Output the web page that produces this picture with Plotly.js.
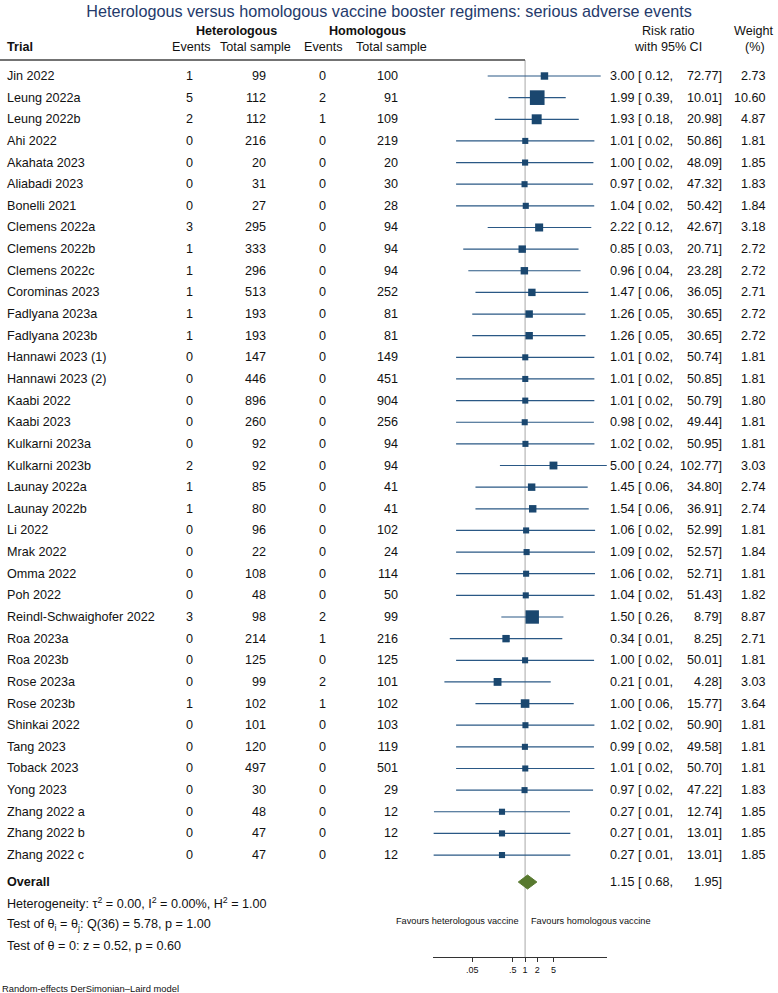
<!DOCTYPE html>
<html>
<head>
<meta charset="utf-8">
<script src="https://cdn.plot.ly/plotly-3.0.1.min.js"></script>
<style>html,body{margin:0;padding:0;background:#fff;}#chart{width:778px;height:993px;}</style>
</head>
<body>
<div id="chart"></div>
<script>
// ---------------- DATA ----------------
const trials = ["Jin 2022","Leung 2022a","Leung 2022b","Ahi 2022","Akahata 2023","Aliabadi 2023","Bonelli 2021",
  "Clemens 2022a","Clemens 2022b","Clemens 2022c","Corominas 2023","Fadlyana 2023a","Fadlyana 2023b",
  "Hannawi 2023 (1)","Hannawi 2023 (2)","Kaabi 2022","Kaabi 2023","Kulkarni 2023a","Kulkarni 2023b",
  "Launay 2022a","Launay 2022b","Li 2022","Mrak 2022","Omma 2022","Poh 2022","Reindl-Schwaighofer 2022",
  "Roa 2023a","Roa 2023b","Rose 2023a","Rose 2023b","Shinkai 2022","Tang 2023","Toback 2023","Yong 2023",
  "Zhang 2022 a","Zhang 2022 b","Zhang 2022 c"];
const hetEvents = [1,5,2,0,0,0,0,3,1,1,1,1,1,0,0,0,0,0,2,1,1,0,0,0,0,3,0,0,0,1,0,0,0,0,0,0,0];
const hetTotal  = [99,112,112,216,20,31,27,295,333,296,513,193,193,147,446,896,260,92,92,85,80,96,22,108,48,98,214,125,99,102,101,120,497,30,48,47,47];
const homEvents = [0,2,1,0,0,0,0,0,0,0,0,0,0,0,0,0,0,0,0,0,0,0,0,0,0,2,1,0,2,1,0,0,0,0,0,0,0];
const homTotal  = [100,91,109,219,20,30,28,94,94,94,252,81,81,149,451,904,256,94,94,41,41,102,24,114,50,99,216,125,101,102,103,119,501,29,12,12,12];
const rr   = [3.00,1.99,1.93,1.01,1.00,0.97,1.04,2.22,0.85,0.96,1.47,1.26,1.26,1.01,1.01,1.01,0.98,1.02,5.00,1.45,1.54,1.06,1.09,1.06,1.04,1.50,0.34,1.00,0.21,1.00,1.02,0.99,1.01,0.97,0.27,0.27,0.27];
const ciLo = [0.12,0.39,0.18,0.02,0.02,0.02,0.02,0.12,0.03,0.04,0.06,0.05,0.05,0.02,0.02,0.02,0.02,0.02,0.24,0.06,0.06,0.02,0.02,0.02,0.02,0.26,0.014,0.02,0.0103,0.06,0.02,0.02,0.02,0.02,0.0057,0.0056,0.0056];
const ciHi = [72.77,10.01,20.98,50.86,48.09,47.32,50.42,42.67,20.71,23.28,36.05,30.65,30.65,50.74,50.85,50.79,49.44,50.95,102.77,34.80,36.91,52.99,52.57,52.71,51.43,8.79,8.25,50.01,4.28,15.77,50.90,49.58,50.70,47.22,12.74,13.01,13.01];
const weight = [2.73,10.60,4.87,1.81,1.85,1.83,1.84,3.18,2.72,2.72,2.71,2.72,2.72,1.81,1.81,1.80,1.81,1.81,3.03,2.74,2.74,1.81,1.84,1.81,1.82,8.87,2.71,1.81,3.03,3.64,1.81,1.81,1.81,1.83,1.85,1.85,1.85];
const overallRR = 1.15, overallLo = 0.68, overallHi = 1.95;
const tickVals = [0.05, 0.5, 1, 2, 5];
const tickText = [".05", ".5", "1", "2", "5"];
const titleText = "Heterologous versus homologous vaccine booster regimens: serious adverse events";
const statsLines = [
  "Heterogeneity: τ<sup>2</sup> = 0.00, I<sup>2</sup> = 0.00%, H<sup>2</sup> = 1.00",
  "Test of θ<sub>i</sub> = θ<sub>j</sub>: Q(36) = 5.78, p = 1.00",
  "Test of θ = 0: z = 0.52, p = 0.60"
];

// ---------------- LAYOUT HELPERS ----------------
const W = 778, H = 993;
const ROW0 = 76, ROWH = 21.64;
const FONT = "Liberation Sans, Arial, Helvetica, sans-serif";
const FS = 12.6;
const px = v => v / W;
const py = v => 1 - v / H;
const rowOfPx = v => (v - ROW0) / ROWH;
const overallRow = rowOfPx(882);

const n = trials.length;
const rows = trials.map((_, i) => i);
const annotations = [];
function addText(text, x, y, anchor, opts) {
  opts = opts || {};
  annotations.push({
    text: text, x: x, y: y, xref: 'paper', yref: opts.yref || 'paper',
    xanchor: anchor, yanchor: 'middle', showarrow: false,
    font: {family: FONT, size: opts.size || FS, color: opts.color || '#111'}
  });
}

// headers
addText("<b>Heterologous</b>", px(236), py(31), 'center');
addText("<b>Homologous</b>", px(367), py(31), 'center');
addText("<b>Trial</b>", px(5), py(47), 'left');
addText("Events", px(191), py(47), 'center');
addText("Total sample", px(256), py(47), 'center');
addText("Events", px(323), py(47), 'center');
addText("Total sample", px(391), py(47), 'center');
addText("Risk ratio", px(668), py(31), 'center');
addText("with 95% CI", px(668), py(47), 'center');
addText("Weight", px(753), py(31), 'center');
addText("(%)", px(755), py(47), 'center');

// rows
for (let i = 0; i < n; i++) {
  const o = {yref: 'y'};
  addText(trials[i], px(5), i, 'left', o);
  addText(String(hetEvents[i]), px(195), i, 'right', o);
  addText(String(hetTotal[i]), px(268), i, 'right', o);
  addText(String(homEvents[i]), px(328), i, 'right', o);
  addText(String(homTotal[i]), px(400), i, 'right', o);
  addText(rr[i].toFixed(2) + " [ " + ciLo[i].toFixed(2) + ",", px(608), i, 'left', o);
  addText(ciHi[i].toFixed(2) + "]", px(724), i, 'right', o);
  addText(weight[i].toFixed(2), px(768), i, 'right', o);
}
// overall
addText("<b>Overall</b>", px(5), overallRow, 'left', {yref: 'y'});
addText(overallRR.toFixed(2) + " [ " + overallLo.toFixed(2) + ",", px(608), overallRow, 'left', {yref: 'y'});
addText(overallHi.toFixed(2) + "]", px(724), overallRow, 'right', {yref: 'y'});
statsLines.forEach((s, k) => addText(s, px(5), py(903 + k * 21.5), 'left', {size: 12.6}));
addText("Random-effects DerSimonian–Laird model", px(0), py(988), 'left', {size: 9.4});
addText("Favours heterologous vaccine", px(521), py(921), 'right', {size: 9.2});
addText("Favours homologous vaccine", px(529), py(921), 'left', {size: 9.2});

// ---------------- TRACES ----------------
const lineX = [], lineY = [];
for (let i = 0; i < n; i++) { lineX.push(ciLo[i], ciHi[i], null); lineY.push(i, i, null); }
const ciTrace = {
  type: 'scatter', mode: 'lines', x: lineX, y: lineY,
  line: {color: '#2a5885', width: 1.2}, hoverinfo: 'skip', showlegend: false
};
const sqTrace = {
  type: 'scatter', mode: 'markers', x: rr, y: rows,
  marker: {symbol: 'square', color: '#1a476f', opacity: 1,
           size: weight.map(w => 4.5 * Math.sqrt(w)), line: {width: 0}},
  showlegend: false, hoverinfo: 'skip'
};
const dh = 7 / ROWH;
const diamond = {
  type: 'scatter', mode: 'lines', fill: 'toself', fillcolor: '#58792f',
  x: [overallLo, overallRR, overallHi, overallRR, overallLo],
  y: [overallRow, overallRow - dh, overallRow, overallRow + dh, overallRow],
  line: {color: '#58792f', width: 1}, showlegend: false, hoverinfo: 'skip'
};

const layout = {
  width: W, height: H,
  margin: {l: 0, r: 0, t: 0, b: 0, pad: 0},
  paper_bgcolor: '#fff', plot_bgcolor: 'rgba(0,0,0,0)',
  showlegend: false,
  title: {text: titleText, x: 0.5, xanchor: 'center', y: py(11), yanchor: 'middle',
          font: {family: FONT, size: 16.2, color: '#243a6b'}},
  xaxis: {
    type: 'log', range: [Math.log10(0.0054), Math.log10(104)],
    domain: [px(433), px(607)], anchor: 'free', position: 1 - 957 / H,
    showline: true, linecolor: '#333', linewidth: 1,
    ticks: 'outside', ticklen: 4, tickcolor: '#333', tickwidth: 1,
    tickvals: tickVals, ticktext: tickText,
    tickfont: {family: FONT, size: 9, color: '#111'},
    showgrid: false, zeroline: false, fixedrange: true
  },
  yaxis: {
    range: [rowOfPx(H), rowOfPx(0)], domain: [0, 1],
    visible: false, showgrid: false, zeroline: false, fixedrange: true
  },
  shapes: [
    {type: 'line', xref: 'x', yref: 'paper', x0: 1, x1: 1, y0: py(60), y1: 1 - 957 / H,
     line: {color: '#a8a8a8', width: 1}, layer: 'below'},
    {type: 'line', xref: 'paper', yref: 'paper', x0: 0, x1: px(525), y0: py(60), y1: py(60),
     line: {color: '#444', width: 1.5}}
  ],
  annotations: annotations
};

Plotly.newPlot('chart', [ciTrace, sqTrace, diamond], layout, {staticPlot: true, displayModeBar: false});
</script>
</body>
</html>
